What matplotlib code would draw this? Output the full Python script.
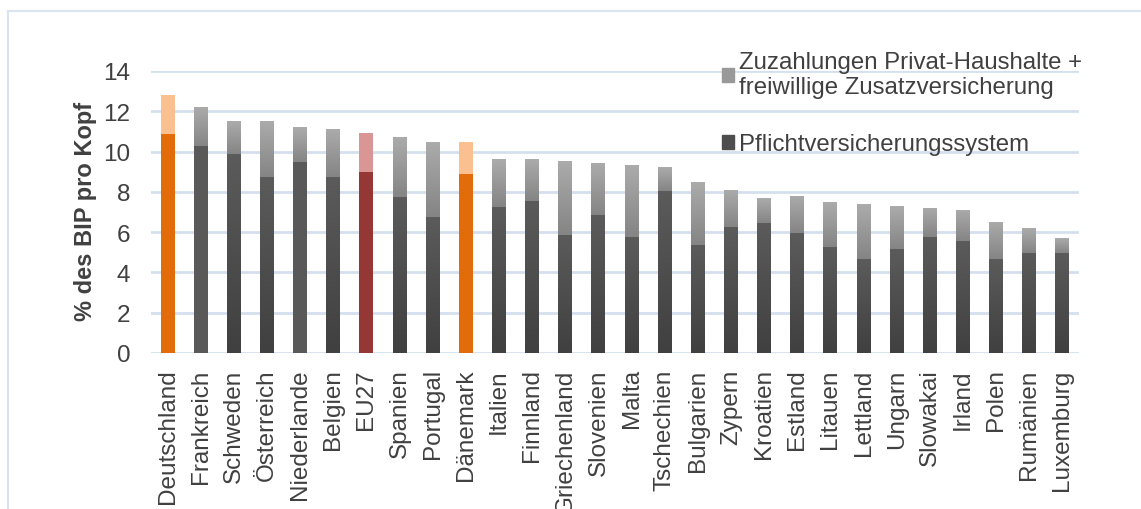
import numpy as np
import matplotlib
matplotlib.use("Agg")
import matplotlib.pyplot as plt
from matplotlib.patches import Rectangle
from matplotlib.colors import LinearSegmentedColormap
from matplotlib.lines import Line2D

countries = ["Deutschland", "Frankreich", "Schweden", "Österreich", "Niederlande",
             "Belgien", "EU27", "Spanien", "Portugal", "Dänemark", "Italien", "Finnland",
             "Griechenland", "Slovenien", "Malta", "Tschechien", "Bulgarien", "Zypern",
             "Kroatien", "Estland", "Litauen", "Lettland", "Ungarn", "Slowakai", "Irland",
             "Polen", "Rumänien", "Luxemburg"]
pflicht = [10.86, 10.27, 9.87, 8.73, 9.47, 8.73, 8.98, 7.74, 6.75, 8.88, 7.24, 7.54,
           5.85, 6.84, 5.75, 8.03, 5.36, 6.25, 6.45, 5.95, 5.26, 4.66, 5.16, 5.75, 5.55,
           4.66, 4.96, 4.96]
total = [12.8, 12.2, 11.5, 11.5, 11.2, 11.1, 10.9, 10.7, 10.5, 10.5, 9.62, 9.62,
         9.52, 9.42, 9.32, 9.22, 8.48, 8.08, 7.69, 7.79, 7.49, 7.39, 7.29, 7.19, 7.09,
         6.5, 6.2, 5.7]
zuzahlung = [t - p for t, p in zip(total, pflicht)]
yticks = [0, 2, 4, 6, 8, 10, 12, 14]
legend_labels = ["Zuzahlungen Privat-Haushalte +\nfreiwillige Zusatzversicherung",
                 "Pflichtversicherungssystem"]
ylabel = "% des BIP pro Kopf"

plt.rcParams['font.family'] = ['Liberation Sans', 'DejaVu Sans']
TXT = "#404040"
GRID = "#D5E0EF"

fig = plt.figure(figsize=(11.41, 5.10), dpi=100)
# outer frame (cropped: only left and top visible)
fig.add_artist(Line2D([8/1141, 8/1141], [0, 1 - 12/510], color="#D9E4F1", lw=1.5))
fig.add_artist(Line2D([8/1141, 1], [1 - 12/510, 1 - 12/510], color="#D9E4F1", lw=1.5))

ax = fig.add_axes([151/1141, (510-354)/510, (1079-151)/1141, (354-72)/510])
x = np.arange(len(countries))
w = 0.42

special_dark = {0: "#E36C0A", 9: "#E36C0A", 6: "#953735"}
special_light = {0: "#FAC090", 9: "#FAC090", 6: "#D99694"}
flat_dark = {1, 4}

b1 = ax.bar(x, pflicht, width=w, color="none", zorder=3)
b2 = ax.bar(x, zuzahlung, bottom=pflicht, width=w, color="none", zorder=3)

def grad_fill(patch, top_col, bot_col):
    bx, by = patch.get_x(), patch.get_y()
    bw, bh = patch.get_width(), patch.get_height()
    cmap = LinearSegmentedColormap.from_list("g", [bot_col, top_col])
    grad = np.linspace(0, 1, 64).reshape(-1, 1)
    im = ax.imshow(grad, cmap=cmap, origin="lower", aspect="auto",
                   extent=[bx, bx + bw, by, by + bh], zorder=3, interpolation="bilinear")
    im.set_clip_path(patch)

for i, (pd_, pl_) in enumerate(zip(b1, b2)):
    if i in special_dark:
        pd_.set_facecolor(special_dark[i])
        pl_.set_facecolor(special_light[i])
    else:
        if i in flat_dark:
            pd_.set_facecolor("#595959")
        else:
            grad_fill(pd_, "#5B5B5B", "#404040")
        grad_fill(pl_, "#ABABAB", "#858585")

ax.set_xlim(-0.5, len(countries) - 0.5)
ax.set_ylim(0, 14)
ax.set_yticks(yticks)
ax.set_yticklabels([str(v) for v in yticks], fontsize=17.5, color=TXT)
ax.set_xticks(x)
ax.set_xticklabels(countries, rotation=90, fontsize=17.5, color=TXT)
ax.tick_params(axis="both", length=0)
ax.tick_params(axis="y", pad=15)
ax.tick_params(axis="x", pad=11)
for s in ax.spines.values():
    s.set_visible(False)
ax.grid(axis="y", color=GRID, lw=2, zorder=0)
ax.set_axisbelow(True)
fig.text(86/1141, 1 - 211.5/510, ylabel, rotation=90, ha="center", va="center",
         fontsize=17, fontweight="bold", color=TXT)

handles = [Rectangle((0, 0), 1, 1, color="#999999"), Rectangle((0, 0), 1, 1, color="#4D4D4D")]
leg = fig.legend(handles, legend_labels, loc="upper left", bbox_to_anchor=(722/1141, 1 - 52/510),
                 frameon=False, fontsize=17.3, labelcolor=TXT, handlelength=0.5, handleheight=0.5,
                 handletextpad=0.2, labelspacing=1.45, borderpad=0, borderaxespad=0)

fig.savefig("out.png", dpi=100)
